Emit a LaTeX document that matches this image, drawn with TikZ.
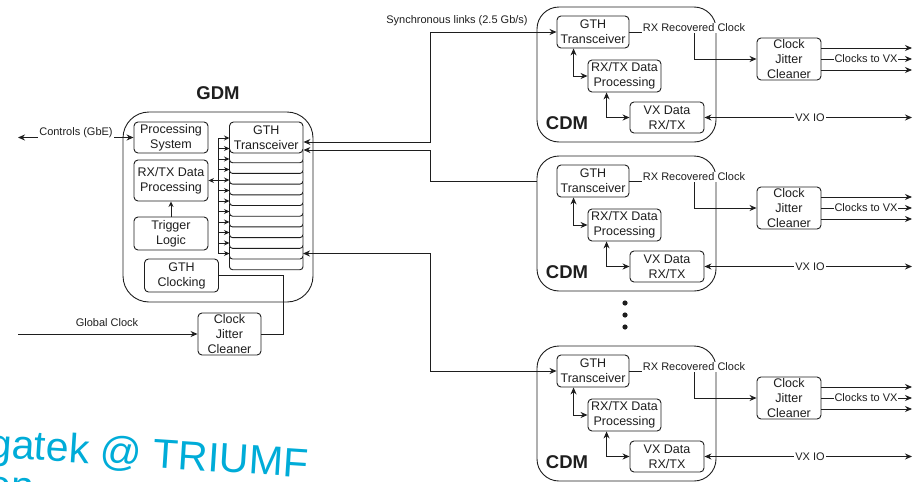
\documentclass[tikz,border=0pt]{standalone}
\usepackage{fontspec}
\setmainfont{Liberation Sans}
\usetikzlibrary{arrows.meta,calc}
\definecolor{ink}{RGB}{30,30,30}
\definecolor{wm}{RGB}{0,172,216}

\begin{document}
\begin{tikzpicture}[x=1pt,y=-1pt,
  line width=0.9pt,
  every node/.style={text=ink},
  blk/.style={draw=ink, rounded corners=4pt, align=center, inner sep=0pt,
              fill=white, font=\fontsize{12.5}{15}\selectfont},
  outerbox/.style={draw=ink, inner sep=0pt},
  lbl/.style={font=\fontsize{11}{13}\selectfont, inner sep=1pt},
  ttl/.style={font=\fontsize{18.5}{20}\selectfont\bfseries, inner sep=0pt},
  wire/.style={draw=ink},
  arr/.style={wire, -{Stealth[length=7pt,width=6pt]}},
  arrb/.style={wire, {Stealth[length=7pt,width=6pt]}-{Stealth[length=7pt,width=6pt]}},
  arrs/.style={wire, -{Stealth[length=5.5pt,width=5pt]}},
]
\useasboundingbox (0,0) rectangle (916,482);
\clip (0,0) rectangle (916,482);

% ---------------- GDM ----------------
\node[outerbox, minimum width=190pt, minimum height=190pt, rounded corners=26pt] (gdm) at (218,207) {};
\node[ttl] (gdmt) at (218,93) {GDM};
\node[blk, minimum width=74pt, minimum height=31pt] (ps) at (171,137.5) {Processing\\System};
\node[blk, minimum width=74pt, minimum height=41pt] (rxg) at (171,180.5) {RX/TX Data\\Processing};
\node[blk, minimum width=74pt, minimum height=33pt] (trig) at (171,233.5) {Trigger\\Logic};
\node[blk, minimum width=74pt, minimum height=33pt] (gclk) at (181.5,275.5) {GTH\\Clocking};

% stack of transceiver lanes
\foreach \i in {11,...,1}
  \draw[wire, fill=white, rounded corners=3pt]
    (229.5,{152+(\i-1)*10.7-4}) rectangle (303,{152+\i*10.7});
\node[blk, minimum width=73.5pt, minimum height=31pt] (ggth) at (266.25,137.5) {GTH\\Transceiver};

% lane bus
\draw[wire] (218,138) -- (218,253.5);
\foreach \k in {0,...,11}
  \draw[arrs] (218,{138+\k*10.5}) -- (229.5,{138+\k*10.5});
\draw[arrs] (218,180.5) -- (rxg.east);
\draw[arrs] (trig.north) -- (rxg.south);

% controls and global clock
\coordinate (ctl) at (18,137.5);
\draw[arrb] (ctl) -- (ps.west);
\node[lbl, fill=white] (ctll) at (76,133) {Controls (GbE)};

\node[blk, minimum width=63pt, minimum height=42pt] (cjc0) at (229.5,334) {Clock\\Jitter\\Cleaner};
\coordinate (gc) at (18,334);
\draw[arr] (gc) -- (cjc0.west);
\node[lbl] (gcl) at (107,323) {Global Clock};
\draw[wire] (cjc0.east) -- (283,334) |- (gclk.east);

% ---------------- CDMs ----------------
\foreach \d/\n in {0/1,149/2,339/3} {
  \node[outerbox, minimum width=179pt, minimum height=135pt, rounded corners=22pt] (c\n) at (626.5,{74.5+\d}) {};
  \node[ttl] (c\n t) at (567,{123+\d}) {CDM};
  \node[blk, minimum width=72pt, minimum height=32pt] (c\n gth) at (593,{32+\d}) {GTH\\Transceiver};
  \node[blk, minimum width=73pt, minimum height=32pt] (c\n rx) at (624.5,{76+\d}) {RX/TX Data\\Processing};
  \node[blk, minimum width=74pt, minimum height=31pt] (c\n vx) at (667,{117.5+\d}) {VX Data\\RX/TX};
  \node[blk, minimum width=64pt, minimum height=42pt] (c\n cjc) at (789,{59+\d}) {Clock\\Jitter\\Cleaner};

  \draw[arrb] ([xshift=17pt]c\n gth.south west) |- (c\n rx.west);
  \draw[arrb] ([xshift=19pt]c\n rx.south west) |- (c\n vx.west);

  % recovered clock to the jitter cleaner
  \draw[arr] (c\n gth.east) -- (694,{32+\d}) -- (694,{59+\d}) -- (c\n cjc.west);
  \node[lbl, fill=white] (c\n rl) at (694,{28+\d}) {RX Recovered Clock};

  % clocks out
  \coordinate (c\n o1) at (912,{48+\d});
  \coordinate (c\n o2) at (912,{59+\d});
  \coordinate (c\n o3) at (912,{70+\d});
  \draw[arr] ([yshift=11pt]c\n cjc.east) -- (c\n o1);
  \draw[arr] (c\n cjc.east) -- (c\n o2);
  \draw[arr] ([yshift=-11pt]c\n cjc.east) -- (c\n o3);
  \node[lbl, fill=white] (c\n cl) at (866,{59+\d}) {Clocks to VX};

  % VX IO
  \coordinate (c\n io) at (912,{117.5+\d});
  \draw[arrb] (c\n vx.east) -- (c\n io);
  \node[lbl, fill=white] (c\n iol) at (810,{117.5+\d}) {VX IO};
}

% ---------------- synchronous links ----------------
\coordinate (lane12) at (303,253.5);
\draw[arrb] ([yshift=-4.5pt]ggth.east) -- (430,142) |- (c1gth.west);
\draw[arr] (c2.west |- c2gth.west) -- (430,181) |- ([yshift=-12.5pt]ggth.east);
\draw[arrb] (lane12) -- (430,253.5) |- (c3gth.west);
\node[lbl] (syn) at (457,21) {Synchronous links (2.5 Gb/s)};

% ellipsis between CDMs
\foreach \y in {303,315,327}
  \fill[ink] (625,\y) circle[radius=2.6pt];

% overlay text
\node[rotate=-3.7, anchor=base west, text=wm, inner sep=0pt,
      font=\fontsize{41}{45}\selectfont] (wm1) at (-12,457) {gatek @ TRIUMF};
\node[rotate=-3.7, anchor=base west, text=wm, inner sep=0pt,
      font=\fontsize{41}{45}\selectfont] (wm2) at (-13,498) {on};
\end{tikzpicture}
\end{document}
